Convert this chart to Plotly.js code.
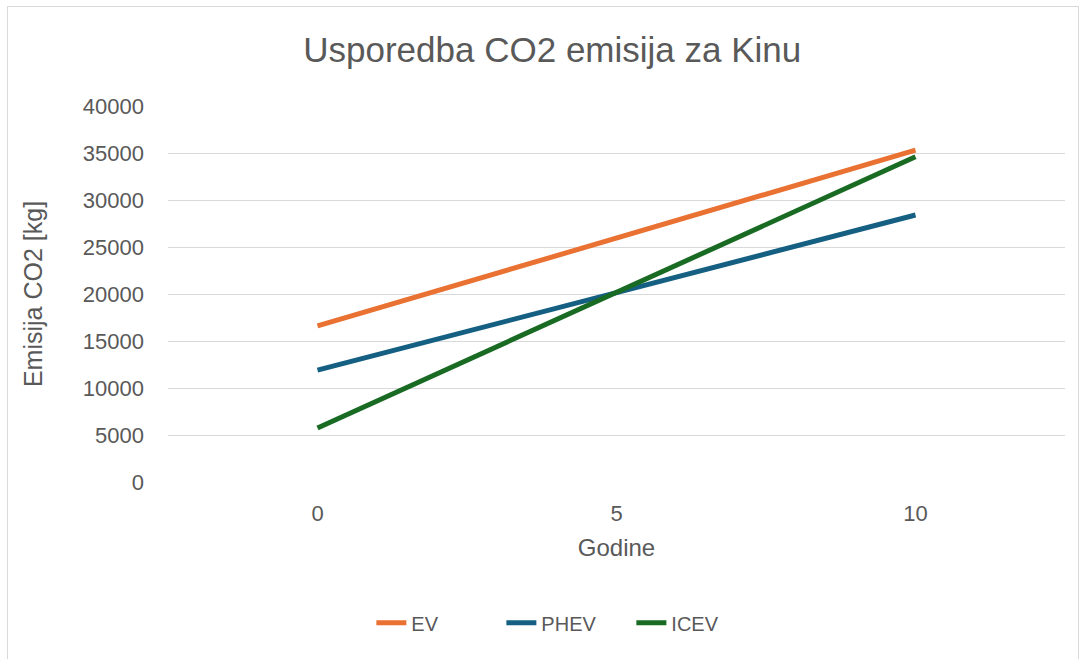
<!DOCTYPE html>
<html>
<head>
<meta charset="utf-8">
<script src="https://cdn.plot.ly/plotly-3.0.1.min.js"></script>
<style>
  body { margin: 0; background: #fff; }
  #frame { position: absolute; left: 7px; top: 6px; width: 1070px; height: 652px; border: 1px solid #d9d9d9; pointer-events: none; }
</style>
</head>
<body>
<div id="g0" style="width:1085px;height:659px;"></div>
<div id="frame"></div>
<script>
// Godine (x categories)
const years = ['0', '5', '10'];
const ev = [16600, 25900, 35300];
const phev = [11900, 20150, 28400];
const icev = [5750, 20150, 34600];

const txt = '#595959';
const fontFam = 'Liberation Sans, Arial, sans-serif';

let data = [];
data.push({x: years, y: ev, type: 'scatter', mode: 'lines', name: 'EV',
  line: {color: '#E97132', width: 5}});
data.push({x: years, y: phev, type: 'scatter', mode: 'lines', name: 'PHEV',
  line: {color: '#156082', width: 5}});
data.push({x: years, y: icev, type: 'scatter', mode: 'lines', name: 'ICEV',
  line: {color: '#196B24', width: 5}});

const layout = {
  width: 1085, height: 659,
  margin: {l: 168, r: 20, t: 106, b: 177},
  paper_bgcolor: '#fff', plot_bgcolor: '#fff',
  font: {family: fontFam, color: txt, size: 22},
  title: {text: 'Usporedba CO2 emisija za Kinu', x: 0.509, xanchor: 'center', y: 0.924, yanchor: 'middle',
    font: {size: 35, color: txt}},
  xaxis: {
    type: 'category', range: [-0.5, 2.5],
    showgrid: false, zeroline: false, showline: false, ticks: '',
    ticklabelstandoff: 16,
    tickfont: {size: 22, color: txt},
    title: {text: 'Godine', font: {size: 24, color: txt}, standoff: 14}
  },
  yaxis: {
    range: [0, 40000], dtick: 5000, tickformat: 'd',
    gridcolor: '#d9d9d9', gridwidth: 1, zeroline: false, showline: false, ticks: '',
    ticklabelstandoff: 23,
    tickfont: {size: 22, color: txt},
    title: {text: 'Emisija CO2 [kg]', font: {size: 25, color: txt}, standoff: 33}
  },
  showlegend: true,
  legend: {orientation: 'h', xref: 'container', yref: 'container', x: 0.522, xanchor: 'center',
    y: 0.055, yanchor: 'middle', font: {size: 20, color: txt}, tracegroupgap: 0,
    entrywidth: 85, entrywidthmode: 'pixels'}
};

Plotly.newPlot('g0', data, layout, {displayModeBar: false});
</script>
</body>
</html>
